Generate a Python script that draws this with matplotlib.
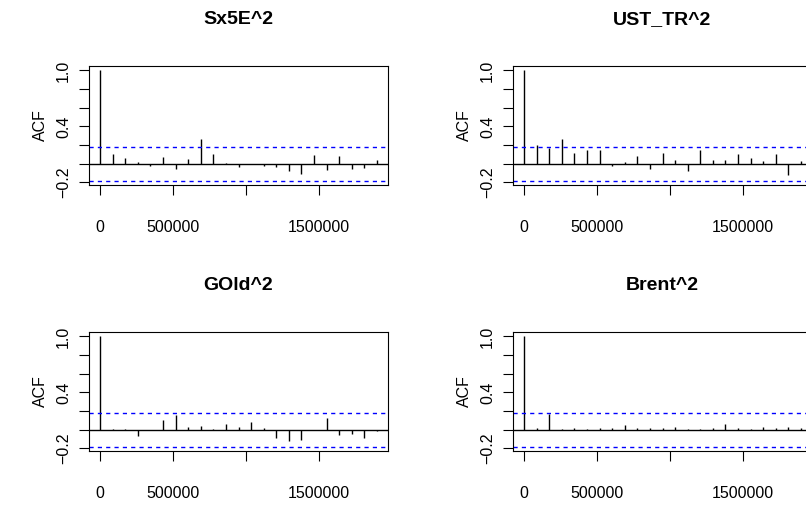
import numpy as np
import matplotlib
matplotlib.use("Agg")
import matplotlib.pyplot as plt

plt.rcParams['font.family'] = ['Liberation Sans', 'DejaVu Sans']

# lags in seconds (one per day), 0..22
lag_step = 86400
lags = np.arange(23) * lag_step

titles = ['Sx5E^2', 'UST_TR^2', 'GOld^2', 'Brent^2']

acf_sx5e = [1.0, 0.105, 0.061, 0.02, -0.022, 0.073, -0.055, 0.047, 0.266, 0.104,
            0.004, -0.036, -0.003, -0.025, -0.036, -0.073, -0.112, 0.095, -0.068,
            0.082, -0.061, -0.043, 0.036]
acf_ust = [1.0, 0.2, 0.166, 0.266, 0.12, 0.15, 0.143, -0.027, 0.02, 0.082,
           -0.055, 0.114, 0.038, -0.08, 0.145, 0.041, 0.036, 0.109, 0.059,
           0.028, 0.104, -0.12, 0.035]
acf_gold = [1.0, 0.01, 0.005, -0.064, 0.003, 0.109, 0.154, 0.025, 0.039, 0.004,
            0.057, 0.025, 0.082, 0.018, -0.093, -0.125, -0.107, -0.004, 0.129,
            -0.054, -0.05, -0.089, -0.018]
acf_brent = [1.0, 0.02, 0.165, 0.01, 0.015, 0.012, 0.02, 0.015, 0.047, 0.02,
             0.015, 0.018, 0.025, 0.012, 0.01, 0.015, 0.064, 0.02, 0.012, 0.025,
             0.015, 0.03, 0.02]
series = [acf_sx5e, acf_ust, acf_gold, acf_brent]

clim = 0.18  # 95% bound, 1.96/sqrt(n)

yticks = [-0.2, 0.0, 0.2, 0.4, 0.6, 0.8, 1.0]
ytick_labels = ['\u22120.2', '', '', '0.4', '', '', '1.0']
xticks = [0, 500000, 1000000, 1500000]
xtick_labels = ['0', '500000', '', '1500000']

W, H = 806, 529
fig = plt.figure(figsize=(W / 100, H / 100), dpi=100)

# box positions in pixels (left, top, width, height), top-left origin
row2 = 66 + 266
boxes = [(89, 66, 299, 119), (513, 66, 299, 119),
         (89, row2, 299, 119), (513, row2, 299, 119)]

fs = 11.5
for (l, t, w, h), title, acf in zip(boxes, titles, series):
    ax = fig.add_axes([l / W, 1 - (t + h) / H, w / W, h / H])
    ax.vlines(lags, 0, acf, color='black', lw=1)
    ax.axhline(0, color='black', lw=1)
    ax.axhline(clim, color='blue', lw=1, ls=(0, (3, 3)))
    ax.axhline(-clim, color='blue', lw=1, ls=(0, (3, 3)))

    xmax = lags[-1]
    ax.set_xlim(-0.04 * xmax, 1.04 * xmax)
    lo, hi = -clim, 1.0
    r = hi - lo
    ax.set_ylim(lo - 0.04 * r, hi + 0.04 * r)

    ax.set_xticks(xticks)
    ax.set_xticklabels(xtick_labels, fontsize=fs)
    ax.set_yticks(yticks)
    ax.set_yticklabels(ytick_labels, fontsize=fs, rotation=90, va='center')
    ax.tick_params(direction='out', length=7, width=0.8)
    ax.tick_params(axis='x', pad=18)
    ax.tick_params(axis='y', pad=6)
    for sp in ax.spines.values():
        sp.set_linewidth(0.8)

    ax.set_ylabel('ACF', fontsize=fs, labelpad=6)
    fig.text((l + w / 2) / W, 1 - (t - 46) / H, title, ha='center', va='center',
             fontsize=14, fontweight='bold')

fig.savefig('out.png', dpi=100)
